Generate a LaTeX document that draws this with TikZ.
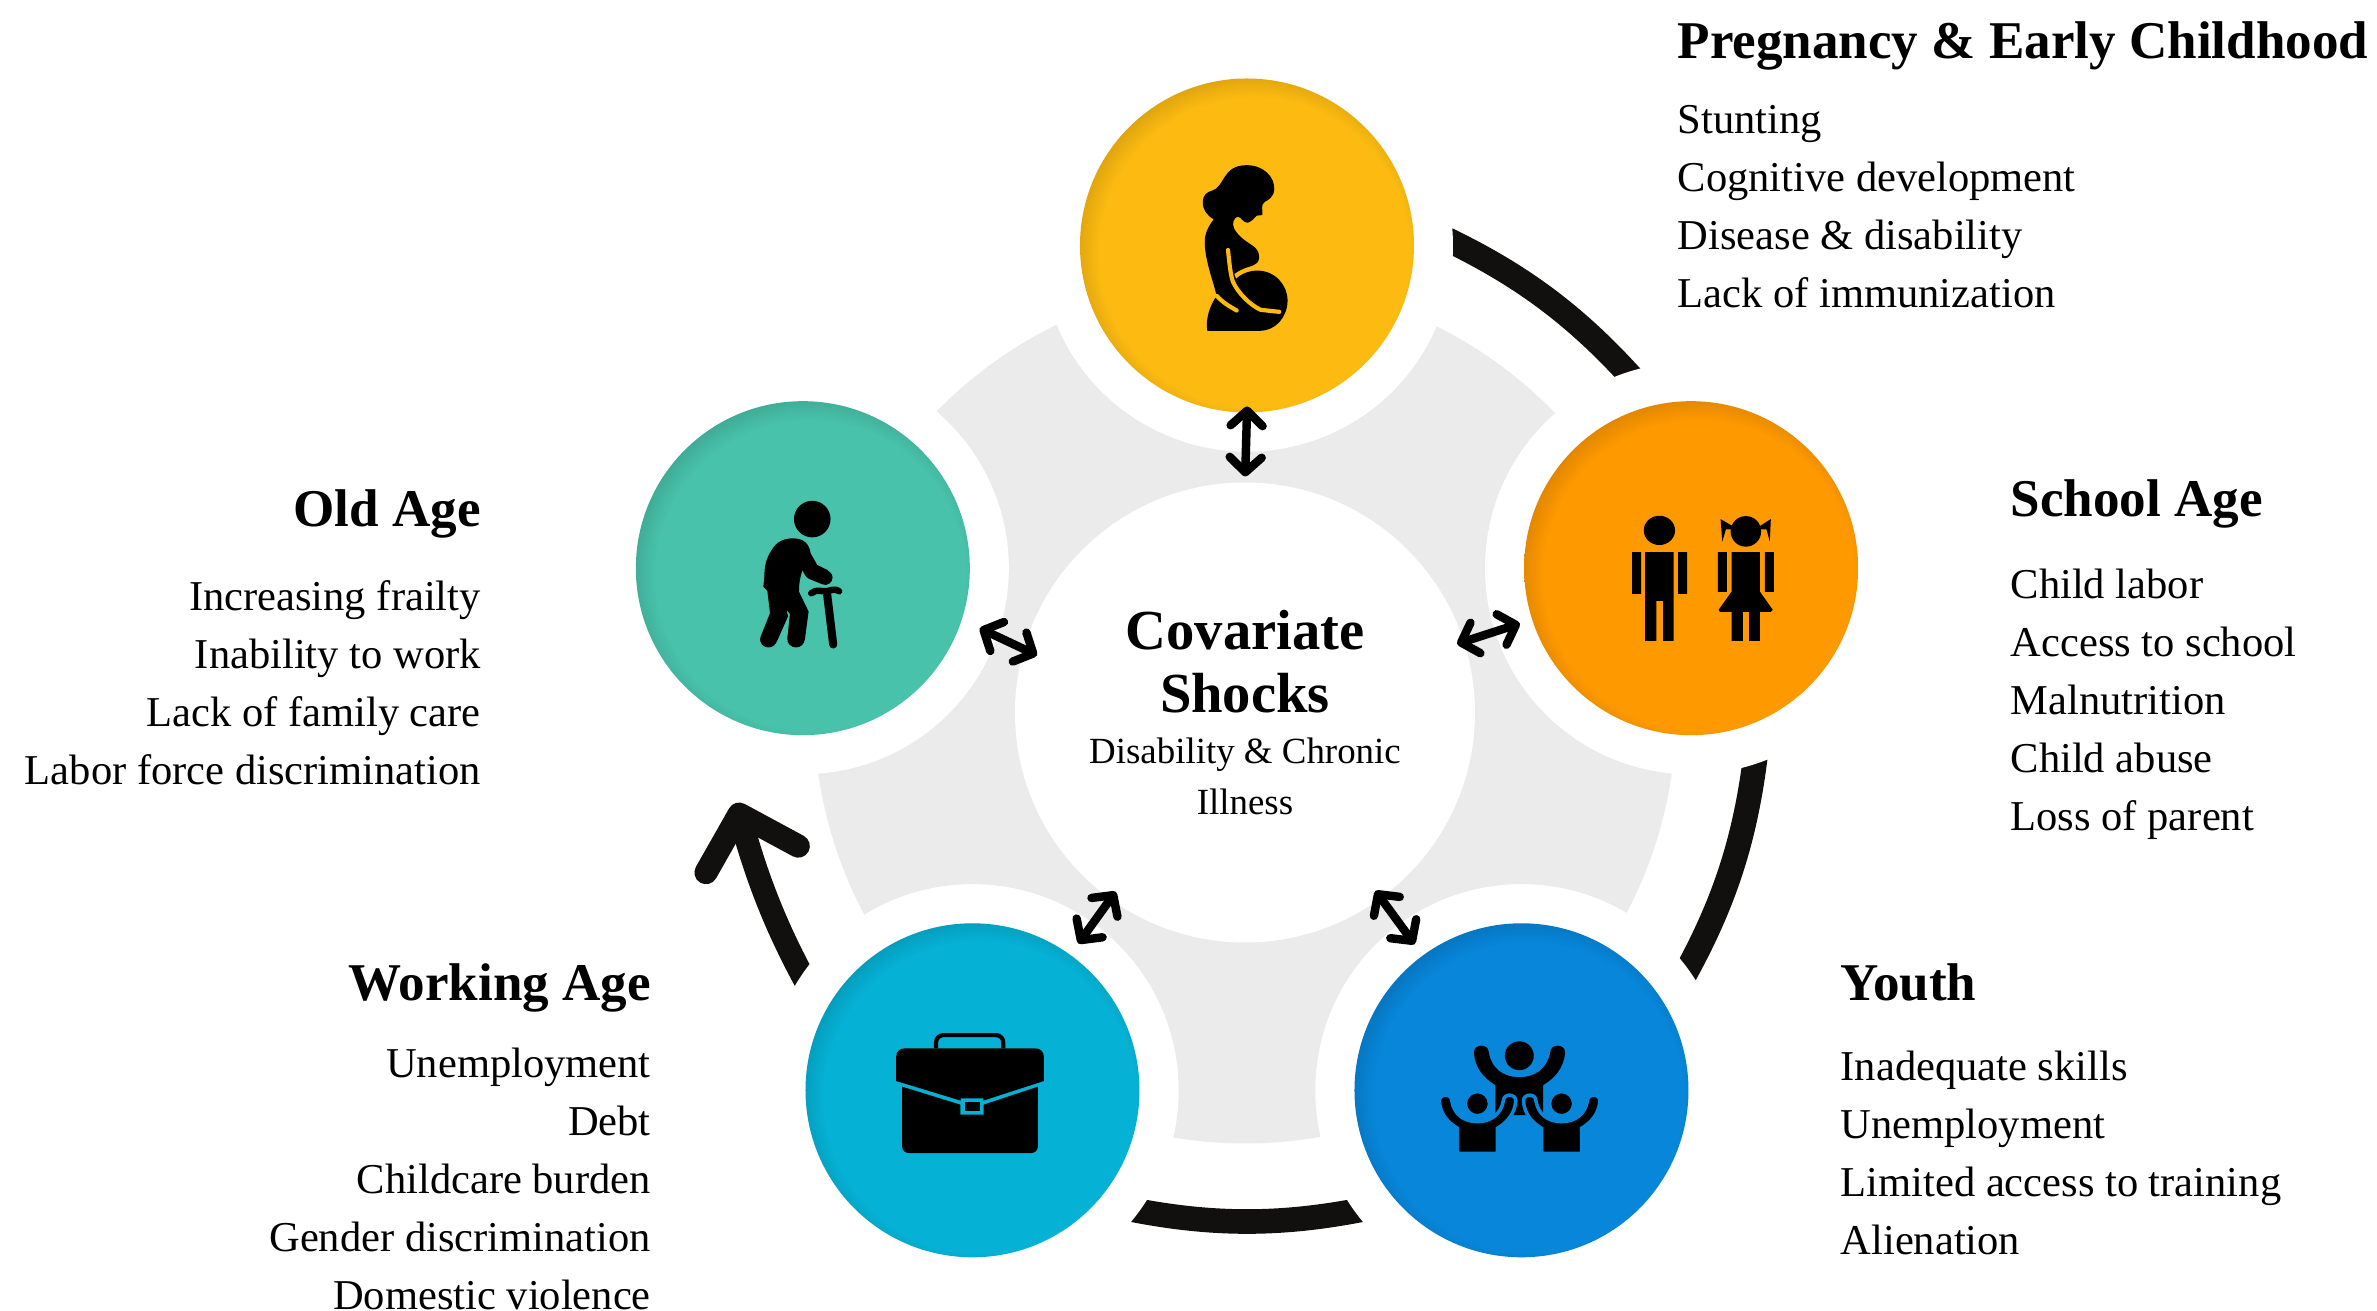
\documentclass[tikz,border=0pt]{standalone}
\usepackage{fontspec}
\setmainfont{Liberation Serif}
\usetikzlibrary{arrows.meta,positioning}

\definecolor{pregcol}{HTML}{FDBB11}
\definecolor{schoolcol}{HTML}{FF9900}
\definecolor{youthcol}{HTML}{0786DA}
\definecolor{workcol}{HTML}{05B2D6}
\definecolor{oldcol}{HTML}{48C2AB}
\definecolor{ringgrey}{HTML}{EBEBEB}
\definecolor{arcblack}{HTML}{11100E}
\colorlet{basecol}{pregcol}
\pgfdeclareradialshading[basecol]{stageshade}{\pgfpoint{2bp}{-2bp}}{%
  color(0bp)=(basecol); color(23.2bp)=(basecol);
  color(27.5bp)=(basecol!84!black); color(50bp)=(basecol!84!black)}

\tikzset{
  person/.pic={
    \path[pic actions] (-110,-8) .. controls (-108,30) and (-85,55) .. (-58,71)
      -- (-58,144) -- (58,144) -- (58,71)
      .. controls (85,55) and (108,30) .. (111,-8)
      .. controls (111,-30) and (75,-30) .. (75,-8)
      .. controls (68,30) and (40,52) .. (0,52)
      .. controls (-40,52) and (-68,30) .. (-74,-8)
      .. controls (-74,-30) and (-110,-30) .. (-110,-8) -- cycle;
    \path[pic actions] (0,0) circle (35);
  }
}

\begin{document}
\begin{tikzpicture}[>={Straight Barb[round,length=.15cm,width=.32cm,line width=2.4pt]},
  stage node/.style={circle,minimum size=3.34cm,inner sep=0pt,outer sep=0pt,
    shade,shading=stageshade,shading angle=0,/utils/exec={\colorlet{basecol}{#1}}},
  halo node/.style={circle,fill=white,minimum size=4.12cm,inner sep=0pt,outer sep=0pt},
  both way/.style={<->,line width=2.4pt},
  cycle arc/.style={line width=7pt,draw=arcblack,looseness=.86,
    shorten <=-.25cm,shorten >=-.25cm},
  icon/.style n args={3}{shift={(#1)},x=.0033333cm,y=-.0033333cm,shift={(-#2,-#3)}},
  head/.style={inner sep=0pt,font=\fontsize{15.1}{18}\selectfont\bfseries},
  items/.style={inner sep=0pt,font=\fontsize{12.1}{16.5}\selectfont,
    execute at begin node={\rule{0pt}{10pt}}}]

  \useasboundingbox (-12.47,-5.985) rectangle (11.30,7.125);

  \fill[ringgrey] (-.02,0) circle (4.31);

  \node[halo node] (haloP) at (90:4.67) {};
  \node[halo node] (haloS) at (18:4.67) {};
  \node[halo node] (haloY) at (-54:4.67) {};
  \node[halo node] (haloW) at (-126:4.67) {};
  \node[halo node] (haloO) at (162:4.67) {};
  \coordinate (agetip) at (-5.11,-.905);

  \draw[cycle arc] (haloP.1) to[bend left=12.25] (haloS.108);
  \draw[cycle arc] (haloS.-72.6) to[bend left=12.1] (haloY.36.7);
  \draw[cycle arc] (haloY.216.2) to[bend left=12.2] (haloW.-36.4);
  \draw[line width=6.6pt,draw=arcblack,looseness=.86,shorten <=-.25cm,
    -{Straight Barb[round,length=.47cm,width=.96cm,line width=6.6pt]}]
    (haloW.146.3) to[out=120,in=-74] (agetip);

  \node[halo node] (maskP) at (haloP) {};
  \node[halo node] (maskS) at (haloS) {};
  \node[halo node] (maskY) at (haloY) {};
  \node[halo node] (maskW) at (haloW) {};

  \node[circle,fill=white,minimum size=4.6cm,inner sep=0pt,outer sep=0pt,align=center,
    font=\fontsize{10.5}{14.5}\selectfont] (cov) at (-.02,0)
    {{\fontsize{16.1}{18.1}\selectfont\bfseries Covariate}\\[3.6pt]
     {\fontsize{16.1}{18.1}\selectfont\bfseries Shocks}\\
     Disability \& Chronic\\
     Illness};

  \node[stage node=pregcol] (preg) at (haloP) {};
  \node[stage node=schoolcol] (school) at (haloS) {};
  \node[stage node=youthcol] (youth) at (haloY) {};
  \node[stage node=workcol] (work) at (haloW) {};
  \node[stage node=oldcol] (old) at (haloO) {};

  \begin{scope}[icon={preg.center}{591}{556.5}]
    \fill (590,315) .. controls (640,315) and (675,350) .. (673,388)
      .. controls (672,410) and (655,420) .. (645,425)
      .. controls (630,435) and (640,450) .. (637,465) -- (620,467)
      .. controls (610,478) and (600,488) .. (592,488)
      .. controls (580,488) and (572,470) .. (563,470)
      .. controls (552,472) and (545,490) .. (552,505)
      .. controls (565,530) and (590,545) .. (605,555)
      .. controls (625,567) and (635,590) .. (622,608)
      .. controls (610,622) and (585,618) .. (553,642) -- (558,657)
      .. controls (575,640) and (600,632) .. (622,632)
      .. controls (675,632) and (713,675) .. (713,722)
      .. controls (713,770) and (678,813) .. (630,813) -- (472,813)
      .. controls (465,780) and (480,735) .. (500,708)
      .. controls (495,690) and (490,670) .. (485,655)
      .. controls (475,620) and (465,585) .. (464,550)
      .. controls (462,520) and (478,495) .. (491,478)
      .. controls (470,465) and (458,450) .. (458,425)
      .. controls (458,405) and (472,395) .. (485,392)
      .. controls (525,382) and (515,315) .. (590,315) -- cycle;
    \draw[pregcol,line width=3.6pt*.33,line cap=round]
      (534,570) .. controls (538,610) and (542,650) .. (550,668)
      .. controls (565,700) and (600,735) .. (632,750) -- (688,756);
    \draw[pregcol,line width=3.6pt*.33,line cap=round]
      (500,708) .. controls (520,730) and (540,740) .. (560,752);
  \end{scope}

  \begin{scope}[icon={school.center}{543.4}{534.6}]
    \fill (448,421) ellipse [x radius=47,y radius=44];
    \fill (366,486) rectangle (393,612) (504,486) rectangle (531,612);
    \fill (405,486) -- (491,486) -- (491,753) -- (459,753) -- (459,633) -- (439,633)
      -- (439,753) -- (405,753) -- cycle;
    \fill (708,424) circle (46);
    \fill (632,387) -- (668,408) -- (662,418) -- (648,418) -- (637,455) -- cycle;
    \fill (783,387) -- (750,408) -- (755,418) -- (770,418) -- (780,455) -- cycle;
    \fill (624,486) rectangle (651,606) (765,486) rectangle (792,606);
    \fill (665,486) -- (750,486) -- (750,605) -- (789,660) -- (783,666) -- (750,666)
      -- (750,753) -- (718,753) -- (718,666) -- (699,666) -- (699,753) -- (665,753)
      -- (665,666) -- (630,666) -- (626,660) -- (665,605) -- cycle;
  \end{scope}

  \begin{scope}[icon={youth.center}{544.5}{540.9}]
    \pic[fill=black,scale=1.24] at (538,437) {person};
    \pic[fill=black,draw=youthcol,line width=1pt,scale=1.04] at (412,581) {person};
    \pic[fill=black,draw=youthcol,line width=1pt,scale=1.04] at (665,581) {person};
  \end{scope}

  \begin{scope}[icon={work.center}{547.5}{540.9}]
    \fill (318,513) -- (318,440) .. controls (318,425) and (328,415) .. (343,415)
      -- (737,415) .. controls (752,415) and (762,425) .. (762,440) -- (762,513)
      -- (580,572) -- (580,565) -- (512,565) -- (512,572) -- cycle;
    \fill (336,530) -- (511,584) -- (511,614) -- (581,614) -- (581,584) -- (744,530)
      -- (744,710) .. controls (744,722) and (734,730) .. (722,730) -- (358,730)
      .. controls (346,730) and (336,722) .. (336,710) -- cycle;
    \fill (524,577) rectangle (569,602);
    \draw[line width=3.6pt*.33] (438,415) -- (438,397) .. controls (438,384) and (448,375) .. (460,375)
      -- (618,375) .. controls (630,375) and (640,384) .. (640,397) -- (640,415);
  \end{scope}

  \begin{scope}[icon={old.center}{548.7}{534.6}]
    \fill (577,387) circle (55);
    \fill (520,445) .. controls (490,445) and (470,455) .. (455,480)
      .. controls (438,505) and (433,530) .. (433,560) -- (430,590) -- (442,603) -- (450,670)
      -- (422,740) .. controls (415,762) and (432,773) .. (445,773)
      .. controls (458,773) and (466,765) .. (472,752) -- (504,680) -- (500,660) -- (510,672)
      -- (502,745) .. controls (500,762) and (515,773) .. (528,773)
      .. controls (542,773) and (553,763) .. (555,748) -- (566,665) -- (537,605)
      .. controls (537,585) and (540,560) .. (548,540)
      .. controls (552,552) and (558,562) .. (568,567) -- (607,583)
      .. controls (622,590) and (638,578) .. (638,563)
      .. controls (638,552) and (630,545) .. (622,540) -- (592,525) -- (572,490)
      .. controls (568,460) and (550,445) .. (520,445) -- cycle;
    \draw[line width=5.6pt*.33,line cap=round] (574,610) .. controls (590,596) and (605,606) .. (620,604)
      .. controls (632,602) and (645,594) .. (658,604);
    \draw[line width=7pt*.33,line cap=round] (622,615) -- (640,764);
  \end{scope}

  \draw[both way,shorten <=.06cm,shorten >=-.06cm] (cov.90) -- (preg.-90.7);
  \draw[both way,shorten <=-.07cm,shorten >=.13cm] (cov) -- (school);
  \draw[both way,shorten <=-.09cm,shorten >=.14cm] (cov) -- (youth);
  \draw[both way,shorten <=-.09cm,shorten >=.14cm] (cov) -- (work);
  \draw[both way,shorten <=-.145cm,shorten >=.2cm] (cov.164) -- (old.-18.7);

  \node[head,anchor=base west] (pregT) at (4.30,6.535) {Pregnancy \& Early Childhood};
  \node[items,below=.459cm of pregT.base west,anchor=north west,align=left] (pregL)
    {Stunting\\Cognitive development\\Disease \& disability\\Lack of immunization};

  \node[head,anchor=base west] (schoolT) at (7.63,1.955) {School Age};
  \node[items,below=.509cm of schoolT.base west,anchor=north west,align=left] (schoolL)
    {Child labor\\Access to school\\Malnutrition\\Child abuse\\Loss of parent};

  \node[head,anchor=base west] (youthT) at (5.93,-2.885) {Youth};
  \node[items,below=.489cm of youthT.base west,anchor=north west,align=left] (youthL)
    {Inadequate skills\\Unemployment\\Limited access to training\\Alienation};

  \node[head,anchor=base east] (oldT) at (-7.655,1.86) {Old Age};
  \node[items,below=.534cm of oldT.base east,anchor=north east,align=right] (oldL)
    {Increasing frailty\\Inability to work\\Lack of family care\\Labor force discrimination};

  \node[head,anchor=base east] (workT) at (-5.955,-2.885) {Working Age};
  \node[items,below=.459cm of workT.base east,anchor=north east,align=right] (workL)
    {Unemployment\\Debt\\Childcare burden\\Gender discrimination\\Domestic violence};
\end{tikzpicture}
\end{document}
